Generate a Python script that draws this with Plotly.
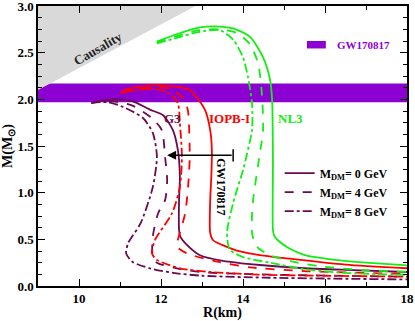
import plotly.graph_objects as go

# mass-radius curves, R in km, M in solar masses
g3_0_r = [10.35, 10.6, 10.95, 11.3, 11.73, 12.05, 12.29, 12.41, 12.46, 12.44, 12.44, 12.47, 12.59, 12.95, 13.51, 14.41, 15.5, 16.7, 18.0]
g3_0_m = [1.97, 1.99, 2.00, 1.98, 1.89, 1.83, 1.67, 1.46, 1.17, 0.92, 0.60, 0.53, 0.46, 0.33, 0.27, 0.225, 0.19, 0.17, 0.15]
g3_4_r = [10.3, 10.5, 10.8, 11.32, 11.8, 12.02, 12.1, 12.15, 12.1, 11.93, 11.8, 11.8, 11.9, 12.39, 12.95, 14.0, 15.5, 18.0]
g3_4_m = [1.96, 1.975, 1.98, 1.93, 1.79, 1.67, 1.38, 1.13, 0.92, 0.78, 0.53, 0.31, 0.25, 0.19, 0.15, 0.13, 0.115, 0.10]
g3_8_r = [10.3, 10.7, 11.07, 11.56, 11.8, 11.9, 11.8, 11.5, 11.2, 11.15, 11.3, 11.73, 12.3, 13.0, 14.5, 16.0, 18.0]
g3_8_m = [1.96, 1.97, 1.92, 1.80, 1.64, 1.39, 1.06, 0.67, 0.46, 0.35, 0.26, 0.19, 0.14, 0.11, 0.09, 0.08, 0.07]

iopb_0_r = [11.05, 11.4, 11.85, 12.3, 12.7, 13.07, 13.2, 13.24, 13.23, 13.2, 13.2, 13.27, 13.49, 13.85, 14.3, 15.4, 16.5, 18.0]
iopb_0_m = [2.09, 2.13, 2.15, 2.14, 2.10, 1.89, 1.67, 1.46, 1.20, 0.92, 0.57, 0.49, 0.44, 0.38, 0.34, 0.28, 0.23, 0.19]
iopb_4_r = [11.1, 11.5, 11.97, 12.35, 12.59, 12.66, 12.7, 12.66, 12.59, 12.41, 12.39, 12.63, 13.37, 14.17, 15.5, 18.0]
iopb_4_m = [2.08, 2.11, 2.13, 2.09, 1.97, 1.87, 1.38, 1.06, 0.78, 0.49, 0.42, 0.35, 0.26, 0.20, 0.16, 0.13]
iopb_8_r = [11.0, 11.4, 11.9, 12.2, 12.41, 12.46, 12.51, 12.46, 12.27, 11.85, 11.78, 11.9, 12.46, 13.2, 14.5, 16.0, 18.0]
iopb_8_m = [2.07, 2.10, 2.11, 2.06, 1.96, 1.75, 1.38, 1.06, 0.78, 0.49, 0.35, 0.28, 0.19, 0.15, 0.12, 0.11, 0.10]

nl3_0_r = [11.9, 12.4, 12.95, 13.4, 13.76, 14.17, 14.49, 14.66, 14.71, 14.73, 14.73, 14.76, 14.85, 15.1, 15.51, 16.24, 17.0, 18.0]
nl3_0_m = [2.62, 2.70, 2.77, 2.78, 2.76, 2.67, 2.45, 2.21, 1.99, 1.35, 0.60, 0.54, 0.49, 0.41, 0.33, 0.28, 0.25, 0.22]
nl3_4_r = [11.9, 12.4, 12.9, 13.4, 13.85, 14.17, 14.37, 14.46, 14.49, 14.41, 14.24, 14.22, 14.34, 14.66, 15.22, 15.88, 17.0, 18.0]
nl3_4_m = [2.61, 2.68, 2.74, 2.75, 2.71, 2.59, 2.38, 2.06, 1.67, 1.42, 0.89, 0.57, 0.42, 0.33, 0.26, 0.21, 0.17, 0.15]
nl3_8_r = [11.9, 12.4, 12.9, 13.44, 13.76, 14.0, 14.12, 14.22, 14.22, 14.1, 14.0, 13.76, 13.61, 13.68, 14.0, 14.66, 15.5, 16.5, 18.0]
nl3_8_m = [2.60, 2.66, 2.72, 2.74, 2.64, 2.45, 2.24, 1.96, 1.67, 1.42, 1.24, 0.89, 0.57, 0.39, 0.31, 0.25, 0.18, 0.14, 0.12]

# causality limit and GW170817 band
causality_r = [9.0, 12.84, 9.0]
causality_m = [2.10, 3.0, 3.0]
gw_band = [1.97, 2.17]
arrow_m = 1.40
arrow_r = [12.15, 13.76]

PURPLE = "#6a0a50"
RED = "#ff0000"
GREEN = "#11ee11"
BAND = "#8c00d2"
FONT = "Liberation Serif"

curves = [
    (g3_0_r, g3_0_m, PURPLE, "solid", "<b>M<sub>DM</sub>= 0 GeV</b>", True),
    (g3_4_r, g3_4_m, PURPLE, "dash", "<b>M<sub>DM</sub>= 4 GeV</b>", True),
    (g3_8_r, g3_8_m, PURPLE, "dashdot", "<b>M<sub>DM</sub>= 8 GeV</b>", True),
    (iopb_0_r, iopb_0_m, RED, "solid", None, False),
    (iopb_4_r, iopb_4_m, RED, "dash", None, False),
    (iopb_8_r, iopb_8_m, RED, "dashdot", None, False),
    (nl3_0_r, nl3_0_m, GREEN, "solid", None, False),
    (nl3_4_r, nl3_4_m, GREEN, "dash", None, False),
    (nl3_8_r, nl3_8_m, GREEN, "dashdot", None, False),
]

fig = go.Figure()

fig.add_trace(go.Scatter(x=causality_r, y=causality_m, fill="toself", mode="none",
                         fillcolor="#d9d9d9", showlegend=False, hoverinfo="skip"))

for r, m, col, dash, name, show in curves:
    fig.add_trace(go.Scatter(x=r, y=m, mode="lines", name=name, showlegend=show,
                             line=dict(color=col, dash=dash, width=1.8, shape="spline", smoothing=0.7)))

# band behind the curves
fig.add_shape(type="rect", xref="paper", x0=0, x1=1, yref="y", y0=gw_band[0], y1=gw_band[1],
              fillcolor=BAND, line_width=0, layer="below")
fig.add_shape(type="rect", xref="x", yref="y", x0=15.56, x1=16.02, y0=2.545, y1=2.625,
              fillcolor=BAND, line_width=0)
fig.add_annotation(x=16.25, y=2.585, text="<b>GW170817</b>", showarrow=False, xanchor="left",
                   font=dict(family=FONT, size=11, color=BAND))

# arrow with end bar
fig.add_annotation(x=arrow_r[0], y=arrow_m, ax=arrow_r[1], ay=arrow_m, axref="x", ayref="y",
                   showarrow=True, arrowhead=2, arrowsize=1.2, arrowwidth=1.5, arrowcolor="black", text="")
fig.add_shape(type="line", x0=arrow_r[1], x1=arrow_r[1], y0=arrow_m - 0.065, y1=arrow_m + 0.065,
              line=dict(color="black", width=1.5))
fig.add_annotation(x=13.46, y=1.06, text="<b>GW170817</b>", textangle=90, showarrow=False,
                   font=dict(family=FONT, size=12, color="black"))

fig.add_annotation(x=10.46, y=2.55, text="<b>Causality</b>", textangle=-30, showarrow=False,
                   font=dict(family=FONT, size=13, color="#222222"))
fig.add_annotation(x=12.29, y=1.80, text="<b>G3</b>", showarrow=False,
                   font=dict(family=FONT, size=13, color=PURPLE))
fig.add_annotation(x=13.68, y=1.80, text="<b>IOPB-I</b>", showarrow=False,
                   font=dict(family=FONT, size=13, color=RED))
fig.add_annotation(x=15.15, y=1.80, text="<b>NL3</b>", showarrow=False,
                   font=dict(family=FONT, size=13, color=GREEN))

axis_common = dict(showline=True, linecolor="black", linewidth=1.5, mirror="ticks",
                   ticks="inside", ticklen=7, tickwidth=1.3, tickcolor="black",
                   showgrid=False, zeroline=False, automargin=False, ticklabeloverflow="allow",
                   tickfont=dict(family=FONT, size=13, color="black", weight="bold"))

fig.update_xaxes(range=[9, 18], dtick=2, tick0=10,
                 minor=dict(ticks="inside", ticklen=4, dtick=1, tick0=9, tickcolor="black"),
                 title=dict(text="<b>R(km)</b>", font=dict(family=FONT, size=14, color="black"), standoff=2),
                 **axis_common)
fig.update_yaxes(range=[0, 3], dtick=0.5, tickformat=".1f",
                 minor=dict(ticks="inside", ticklen=4, dtick=0.125, tickcolor="black"),
                 title=dict(text="<b>M(M<sub>⊙</sub>)</b>", font=dict(family=FONT, size=14, color="black"), standoff=2),
                 **axis_common)

fig.update_layout(
    width=415, height=321,
    margin=dict(l=38, r=8, t=6, b=35, autoexpand=False),
    plot_bgcolor="white", paper_bgcolor="white",
    legend=dict(x=0.655, y=0.455, xanchor="left", yanchor="top", bgcolor="rgba(0,0,0,0)",
                font=dict(family=FONT, size=12, color="black"), tracegroupgap=0, itemwidth=30),
)

fig.write_html("out.html", config={"displayModeBar": False},
               post_script="document.body.style.margin='0';")
